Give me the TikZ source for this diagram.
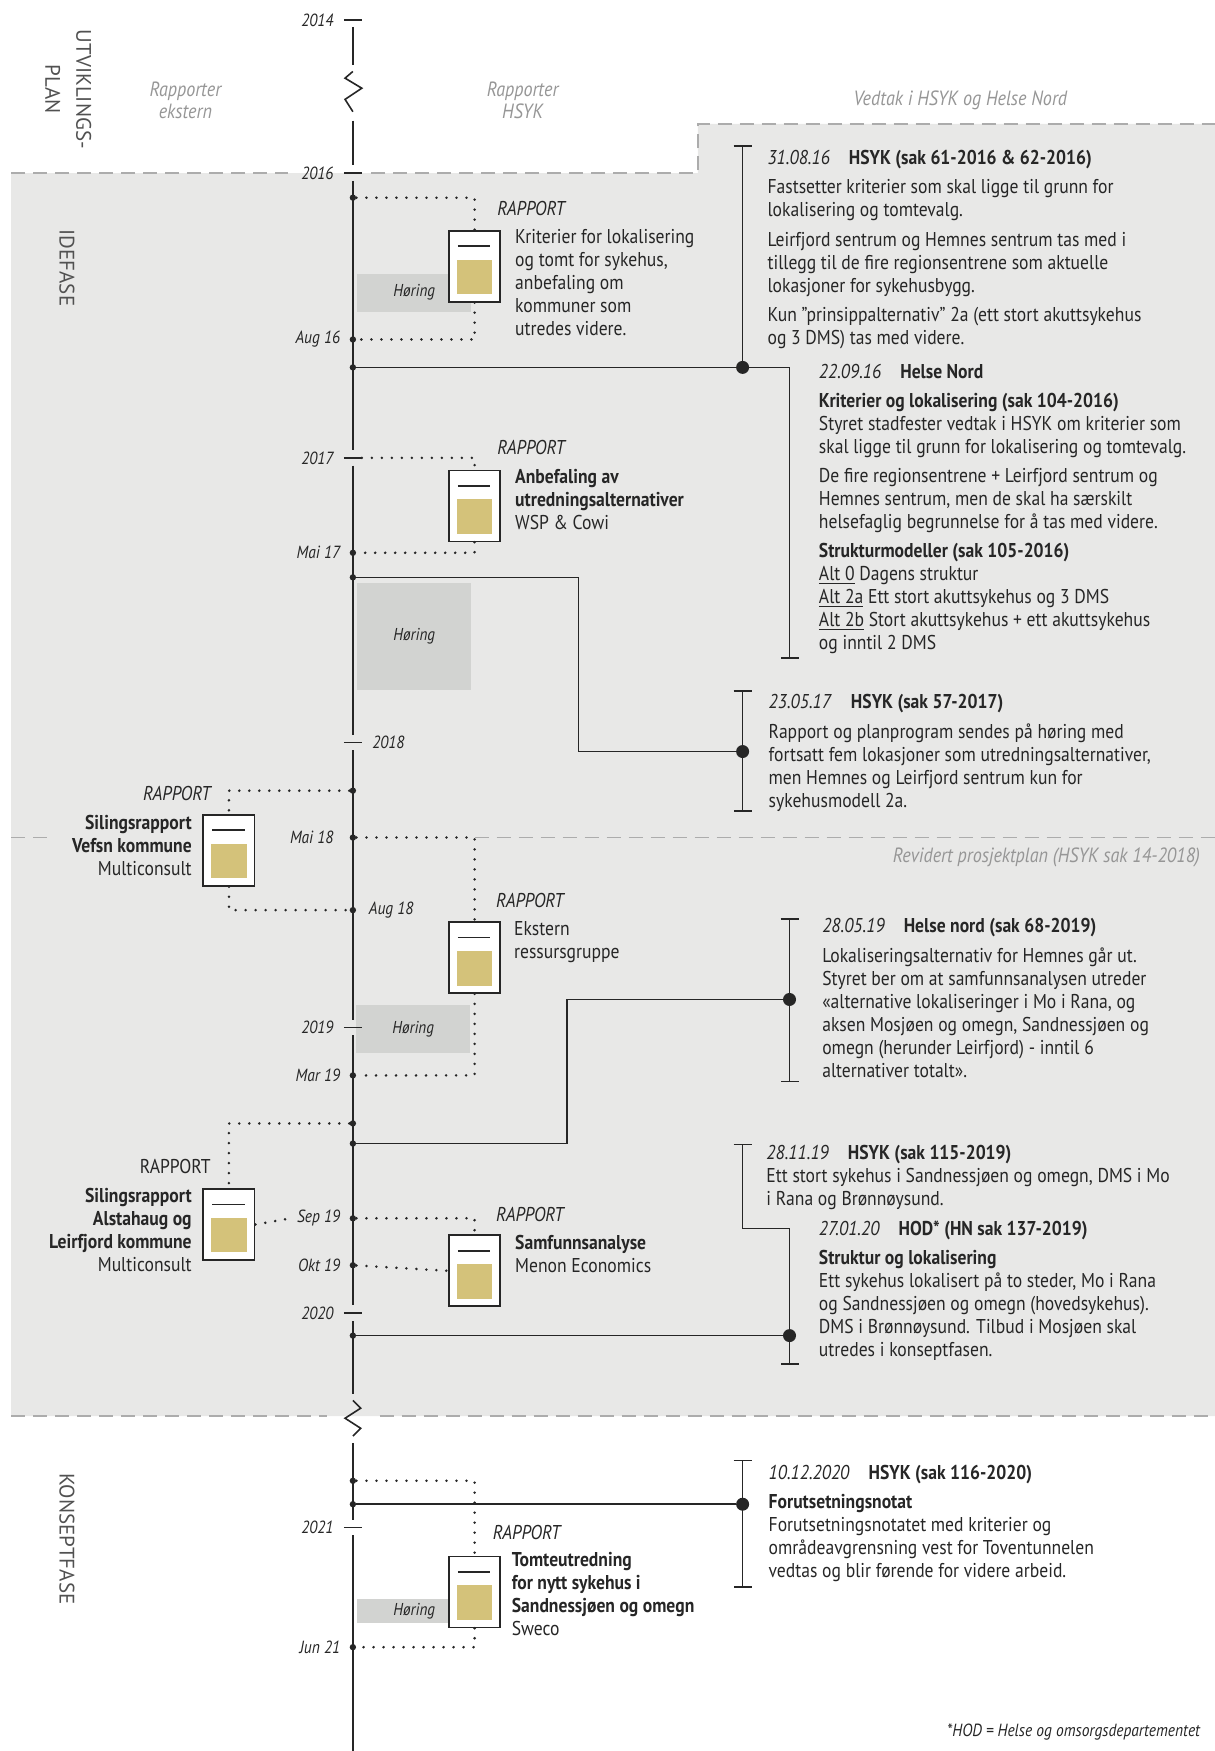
\documentclass[tikz,border=0pt]{standalone}
\usepackage{fontspec}
\setmainfont{PT Sans}[FakeStretch=0.88]
\newfontfamily\widef{PT Sans}
\usetikzlibrary{arrows.meta}
\definecolor{bggray}{RGB}{232,232,231}
\definecolor{hgray}{RGB}{210,211,209}
\definecolor{gold}{RGB}{212,194,122}
\definecolor{ink}{RGB}{38,38,38}
\definecolor{lightlbl}{RGB}{150,150,150}
\definecolor{dashc}{RGB}{172,172,172}
\newcommand\bodyf{\fontsize{10}{11.5}\selectfont}
\newcommand\dt[1]{\textit{#1}\hspace{9.5pt}}
\tikzset{
  tl/.style={ink,line width=0.8pt},
  dotl/.style={ink,line width=1.4pt,line cap=round,dash pattern=on 0pt off 5pt},
  phase/.style={dashc,line width=0.8pt,dash pattern=on 7pt off 4pt},
  tdot/.style={circle,fill=ink,inner sep=0pt,minimum size=3.2pt},
  bigdot/.style={circle,fill=ink,inner sep=0pt,minimum size=6.5pt},
  brk/.style={tl,{Bar[width=9pt]}-{Bar[width=9pt]}},
  yrlbl/.style={inner sep=0pt,text=ink,font=\fontsize{8.8}{10}\selectfont\itshape},
  rap/.style={inner sep=0pt,text=ink,anchor=west,font=\fontsize{10}{11}\selectfont\itshape},
  toplbl/.style={inner sep=0pt,text=lightlbl,align=center,font=\fontsize{10.3}{11.3}\selectfont\itshape},
  phaselbl/.style={inner sep=0pt,text=ink!80,align=center,rotate=-90,font=\widef\fontsize{10.5}{15.5}\selectfont},
  dec/.style={inner sep=0pt,text=ink,anchor=north west,align=left,font=\bodyf},
  rtext/.style={inner sep=0pt,text=ink,anchor=north west,align=left,font=\bodyf},
  hbox/.style={fill=hgray,inner sep=0pt,text=ink,minimum width=57pt,font=\fontsize{8.6}{10}\selectfont\itshape},
  iconbox/.style={draw=ink,line width=0.85pt,fill=white,inner sep=0pt,minimum width=25.7pt,minimum height=35.5pt},
  report/.pic={
    \node[iconbox] (-box) at (0,0) {};
    \draw[ink,line width=0.8pt] (-15,-18) -- (14,-18);
    \fill[gold] (-16,-6) rectangle (16,25);
  }
}
\begin{document}
\begin{tikzpicture}[x=0.5583pt,y=-0.5583pt]
\useasboundingbox (0,0) rectangle (1088,1568);
\fill[bggray] (10,155) -- (625,155) -- (625,111) -- (1088,111) -- (1088,1268) -- (10,1268) -- cycle;
\draw[phase] (10,155) -- (258,155);
\draw[phase] (332,155) -- (625,155) -- (625,111) -- (1088,111);
\draw[phase] (10,750) -- (48,750);
\draw[phase] (425,750) -- (1088,750);
\draw[phase] (10,1268) -- (293,1268);
\draw[phase] (340,1268) -- (1088,1268);

\node[phaselbl] (utv) at (61,80) {UTVIKLINGS-\\PLAN};
\node[phaselbl] (ide) at (60,240) {IDEFASE};
\node[phaselbl] (kon) at (60,1378) {KONSEPTFASE};
\node[toplbl] (rext) at (166,90) {Rapporter\\ekstern};
\node[toplbl] (rhsyk) at (468,90) {Rapporter\\HSYK};
\node[toplbl] (vedtak) at (860,90) {Vedtak i HSYK og Helse Nord};
\node[toplbl,anchor=east] (revp) at (1075,768) {Revidert prosjektplan (HSYK sak 14-2018)};
\node[inner sep=0pt,text=ink,anchor=east,font=\fontsize{8.8}{10}\selectfont\itshape] (fnote) at (1075,1551) {*HOD = Helse og omsorgsdepartementet};

\node[hbox,minimum height=19pt] (h1) at (371,262) {Høring};
\node[hbox,minimum height=53.6pt] (h2) at (371,570) {Høring};
\node[hbox,minimum height=24pt] (h3) at (370,921.5) {Høring};
\node[hbox,minimum height=11.7pt] (h4) at (371,1442.5) {Høring};

\foreach \a/\b in {24/58,108/148,162/403,417/658,672/913,927/1169,1183/1248,1292/1361,1375/1568}
  \draw[tl] (316,\a) -- (316,\b);
\draw[tl,line join=miter] (316,64) -- (309,70) -- (324,79) -- (309,89) -- (316,100);
\draw[tl,line join=miter] (316,1254) -- (323,1261) -- (309,1270) -- (323,1279) -- (316,1286);
\foreach \yy/\nm in {18/2014,155/2016,410/2017,665/2018,920/2019,1176/2020,1368/2021}
  \draw[tl] (308,\yy) -- (324,\yy);
\foreach \yy/\nm in {18/2014,155/2016,410/2017,920/2019,1176/2020,1368/2021}
  \node[yrlbl,anchor=east] (y\nm) at (299,\yy) {\nm};
\node[yrlbl,anchor=west] (y2018) at (333,665) {2018};
\coordinate (k2017) at (324,410);

\foreach \yy in {177,304,329,495,517,708,750,815,963,1006,1024,1091,1133,1196,1326,1347,1475}
  \node[tdot] (d\yy) at (316,\yy) {};
\foreach \xx/\yy/\txt in {305/304/Aug 16,305/495/Mai 17,299/750/Mai 18,305/963/Mar 19,305/1133/Okt 19,305/1475/Jun 21}
  \node[yrlbl,anchor=east] (m\yy) at (\xx,\yy) {\txt};
\node[yrlbl,anchor=west] (m815) at (330,815) {Aug 18};
\node[yrlbl,anchor=east] (sep19) at (305,1091) {Sep 19};

\pic (r1) at (425,238.5) {report};
\pic (r2) at (425,453) {report};
\pic (r3) at (205,761.5) {report};
\pic (r4) at (425,857.5) {report};
\pic (r5) at (205,1096.5) {report};
\pic (r6) at (425,1138) {report};
\pic (r7) at (425,1425.5) {report};

\draw[dotl] (d177) -| (r1-box.north);
\draw[dotl] (r1-box.south) |- (d304);
\draw[dotl] (k2017) -| (r2-box.north);
\draw[dotl] (r2-box.south) |- (d495);
\draw[dotl] (d708) -| (r3-box.north);
\draw[dotl] (r3-box.south) |- (d815);
\draw[dotl] (d750) -| (r4-box.north);
\draw[dotl] (r4-box.south) |- (d963);
\draw[dotl] (d1006) -| (r5-box.north);
\draw[dotl] (r5-box.east) -- ([xshift=-3pt]sep19.west);
\draw[dotl] (d1091) -| (r6-box.north);
\draw[dotl] (d1133) -- (r6-box.west);
\draw[dotl] (d1326) -| (r7-box.north);
\draw[dotl] (r7-box.south) |- (d1475);

\node[rap] (rap1) at (445,187) {RAPPORT};
\node[rap] (rap2) at (445,401) {RAPPORT};
\node[rap,anchor=east] (rap3) at (189,711) {RAPPORT};
\node[rap] (rap4) at (444,806) {RAPPORT};
\node[rap,anchor=east,font=\fontsize{10}{11}\selectfont] (rap5) at (189,1045) {RAPPORT};
\node[rap] (rap6) at (444,1088) {RAPPORT};
\node[rap] (rap7) at (441,1372) {RAPPORT};

\node[rtext] (t1) at (461,205) {Kriterier for lokalisering\\og tomt for sykehus,\\anbefaling om\\kommuner som\\utredes videre.};
\node[rtext] (t2) at (461,420) {\textbf{Anbefaling av}\\\textbf{utredningsalternativer}\\WSP \& Cowi};
\node[rtext,anchor=north east,align=right] (t3) at (172,730) {\textbf{Silingsrapport}\\\textbf{Vefsn kommune}\\Multiconsult};
\node[rtext] (t4) at (460,825) {Ekstern\\ressursgruppe};
\node[rtext,anchor=north east,align=right] (t5) at (172,1064) {\textbf{Silingsrapport}\\\textbf{Alstahaug og}\\\textbf{Leirfjord kommune}\\Multiconsult};
\node[rtext] (t6) at (461,1106) {\textbf{Samfunnsanalyse}\\Menon Economics};
\node[rtext] (t7) at (458,1390) {\textbf{Tomteutredning}\\\textbf{for nytt sykehus i}\\\textbf{Sandnessjøen og omegn}\\Sweco};

\node[bigdot] (j1) at (665,329) {};
\node[bigdot] (j3) at (665,673) {};
\node[bigdot] (j4) at (707,895) {};
\node[bigdot] (j5) at (707,1196) {};
\node[bigdot] (j7) at (665,1347) {};
\coordinate (b1t) at (665,130);
\coordinate (b2c) at (707,329);
\coordinate (b2b) at (707,590);
\coordinate (b3t) at (665,618);
\coordinate (b3b) at (665,727);
\coordinate (b4t) at (707,822);
\coordinate (b4b) at (707,969);
\coordinate (b5t) at (665,1024);
\coordinate (b5c) at (665,1100);
\coordinate (b6c) at (707,1100);
\coordinate (b6b) at (707,1222);
\coordinate (b7t) at (665,1307);
\coordinate (b7b) at (665,1422);
\coordinate (c3) at (518,600);
\coordinate (c4) at (508,960);
\draw[brk] (b1t) -- (j1.center) -- (b2c) -- (b2b);
\draw[brk] (b3t) -- (b3b);
\draw[brk] (b4t) -- (b4b);
\draw[brk] (b5t) -- (b5c) -- (b6c) -- (b6b);
\draw[brk] (b7t) -- (b7b);
\draw[tl] (d329) -- (j1);
\draw[tl] (d517) -| (c3) |- (j3);
\draw[tl] (d1024) -| (c4) |- (j4);
\draw[tl] (d1196) -- (j5);
\draw[tl] (d1347) -- (j7);

\node[dec] (v1) at (687,134) {\dt{31.08.16}\textbf{HSYK (sak 61-2016 \& 62-2016)}\\[3pt]
Fastsetter kriterier som skal ligge til grunn for\\
lokalisering og tomtevalg.\\[3.5pt]
Leirfjord sentrum og Hemnes sentrum tas med i\\
tillegg til de fire regionsentrene som aktuelle\\
lokasjoner for sykehusbygg.\\[3pt]
Kun "prinsippalternativ" 2a (ett stort akuttsykehus\\
og 3 DMS) tas med videre.};
\node[dec] (v2) at (733,326) {\dt{22.09.16}\textbf{Helse Nord}\\[3pt]
\textbf{Kriterier og lokalisering (sak 104-2016)}\\
Styret stadfester vedtak i HSYK om kriterier som\\
skal ligge til grunn for lokalisering og tomtevalg.\\[3pt]
De fire regionsentrene + Leirfjord sentrum og\\
Hemnes sentrum, men de skal ha særskilt\\
helsefaglig begrunnelse for å tas med videre.\\[3pt]
\textbf{Strukturmodeller (sak 105-2016)}\\
\underline{Alt 0} Dagens struktur\\
\underline{Alt 2a} Ett stort akuttsykehus og 3 DMS\\
\underline{Alt 2b} Stort akuttsykehus + ett akuttsykehus\\
og inntil 2 DMS};
\node[dec] (v3) at (688,621) {\dt{23.05.17}\textbf{HSYK (sak 57-2017)}\\[3.5pt]
Rapport og planprogram sendes på høring med\\
fortsatt fem lokasjoner som utredningsalternativer,\\
men Hemnes og Leirfjord sentrum kun for\\
sykehusmodell 2a.};
\node[dec] (v4) at (736,822) {\dt{28.05.19}\textbf{Helse nord (sak 68-2019)}\\[3.5pt]
Lokaliseringsalternativ for Hemnes går ut.\\
Styret ber om at samfunnsanalysen utreder\\
«alternative lokaliseringer i Mo i Rana, og\\
aksen Mosjøen og omegn, Sandnessjøen og\\
omegn (herunder Leirfjord) - inntil 6\\
alternativer totalt».};
\node[dec] (v5) at (686,1025) {\dt{28.11.19}\textbf{HSYK (sak 115-2019)}\\
Ett stort sykehus i Sandnessjøen og omegn, DMS i Mo\\
i Rana og Brønnøysund.};
\node[dec] (v6) at (733,1093) {\dt{27.01.20}\textbf{HOD* (HN sak 137-2019)}\\[3pt]
\textbf{Struktur og lokalisering}\\
Ett sykehus lokalisert på to steder, Mo i Rana\\
og Sandnessjøen og omegn (hovedsykehus).\\
DMS i Brønnøysund. Tilbud i Mosjøen skal\\
utredes i konseptfasen.};
\node[dec] (v7) at (688,1312) {\dt{10.12.2020}\textbf{HSYK (sak 116-2020)}\\[3pt]
\textbf{Forutsetningsnotat}\\
Forutsetningsnotatet med kriterier og\\
områdeavgrensning vest for Toventunnelen\\
vedtas og blir førende for videre arbeid.};
\end{tikzpicture}
\end{document}
